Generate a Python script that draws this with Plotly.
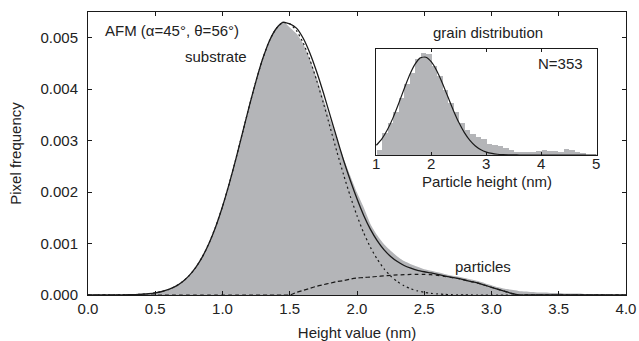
import plotly.graph_objects as go

# ---- main panel data (height value in nm, pixel frequency) ----
x_main = [round(0.05 * i, 2) for i in range(81)]  # 0.00 .. 4.00 tick grid for listing

hist_vals = [
    0, 0, 0, 0, 0.000001, 0.000002, 0.000004, 0.000008, 0.000015, 0.000026,
    0.000043, 0.000069, 0.00011, 0.00017, 0.000255, 0.000373, 0.000533, 0.000742, 0.001005, 0.00133,
    0.00172, 0.00216, 0.00265, 0.00316, 0.00368, 0.00417, 0.0046, 0.00496, 0.0052, 0.00532,
    0.0052, 0.00508, 0.00488, 0.00458, 0.00422, 0.00382, 0.00342, 0.00302, 0.00266, 0.00232,
    0.00199, 0.0017, 0.00138, 0.00116, 0.00099, 0.00086, 0.00075, 0.00066, 0.0006, 0.00055,
    0.0005, 0.00047, 0.00044, 0.00041, 0.00038, 0.00036, 0.00033, 0.0003, 0.00027, 0.00023,
    0.00019, 0.00015, 0.00012, 0.0001, 0.00008, 0.00007, 0.00006, 0.00005, 0.00005, 0.00004,
    0.00004, 0.00003, 0.00003, 0.00003, 0.00002, 0.00002, 0.00002, 0.00001, 0, 0, 0,
]

total_fit = [
    0, 0.0000002, 0.0000003, 0.0000007, 0.0000013, 0.0000024, 0.0000045, 0.0000082, 0.0000145, 0.000025,
    0.000042, 0.000068, 0.000108, 0.000167, 0.000252, 0.000371, 0.000531, 0.000741, 0.001007, 0.001333,
    0.00172, 0.002164, 0.00265, 0.003164, 0.00368, 0.004167, 0.0046, 0.004948, 0.00518, 0.005298,
    0.00527, 0.005187, 0.00499, 0.0047, 0.00434, 0.00393, 0.00349, 0.00305, 0.00262, 0.00223,
    0.00187, 0.001546, 0.001276, 0.001057, 0.000882, 0.000749, 0.00065, 0.000574, 0.000521, 0.00048,
    0.000452, 0.000428, 0.0004, 0.000372, 0.000347, 0.000324, 0.000292, 0.000261, 0.000231, 0.00019,
    0.00015, 0.00011, 0.00007, 0.00003, 0, 0, 0, 0, 0, 0,
    0, 0, 0, 0, 0, 0, 0, 0, 0, 0, 0,
]

substrate_fit = [
    0, 0.0000002, 0.0000003, 0.0000007, 0.0000013, 0.0000024, 0.0000045, 0.0000082, 0.0000145, 0.000025,
    0.000042, 0.000068, 0.000108, 0.000167, 0.000252, 0.000371, 0.000531, 0.000741, 0.001007, 0.001333,
    0.00172, 0.002164, 0.00265, 0.003164, 0.00368, 0.004167, 0.0046, 0.004948, 0.00518, 0.005298,
    0.00527, 0.005137, 0.0049, 0.00457, 0.00417, 0.00373, 0.00326, 0.00279, 0.00234, 0.00192,
    0.00154, 0.001206, 0.000926, 0.000697, 0.000512, 0.000369, 0.00026, 0.000179, 0.000121, 0.00008,
    0.000052, 0.000033, 0.00002, 0.000012, 0.000007, 0.000004, 0.000002, 0.000001, 0, 0,
    0, 0, 0, 0, 0, 0, 0, 0, 0, 0,
    0, 0, 0, 0, 0, 0, 0, 0, 0, 0, 0,
]

particle_fit = [
    0, 0, 0, 0, 0, 0, 0, 0, 0, 0,
    0, 0, 0, 0, 0, 0, 0, 0, 0, 0,
    0, 0, 0, 0, 0, 0, 0, 0, 0, 0,
    0, 0.00005, 0.00009, 0.00013, 0.00017, 0.0002, 0.00023, 0.00026, 0.00028, 0.00031,
    0.00033, 0.00034, 0.00035, 0.00036, 0.00037, 0.00038, 0.00039, 0.000395, 0.0004, 0.0004,
    0.0004, 0.000395, 0.00038, 0.00036, 0.00034, 0.00032, 0.00029, 0.00026, 0.00023, 0.00019,
    0.00015, 0.00011, 0.00007, 0.00003, 0, 0, 0, 0, 0, 0,
    0, 0, 0, 0, 0, 0, 0, 0, 0, 0, 0,
]

x_ticks = [0.0, 0.5, 1.0, 1.5, 2.0, 2.5, 3.0, 3.5, 4.0]
y_ticks = [0.0, 0.001, 0.002, 0.003, 0.004, 0.005]

# ---- inset data (grain distribution, N=353) ----
grain_bins = [round(1.05 + 0.1 * i, 2) for i in range(38)]
grain_vals = [
    0.051, 0.211, 0.297, 0.409, 0.537, 0.665, 0.776, 0.904, 0.958, 0.952,
    0.840, 0.744, 0.617, 0.489, 0.409, 0.297, 0.233, 0.201, 0.169, 0.153,
    0.105, 0.096, 0.089, 0.064, 0.042, 0.026, 0.026, 0.032, 0.032, 0.038,
    0.042, 0.038, 0.035, 0.032, 0.054, 0.048, 0.026, 0.016,
]
grain_fit_x = [round(1.0 + 0.1 * i, 2) for i in range(41)]
grain_fit = [
    0.092, 0.1525, 0.2376, 0.348, 0.479, 0.618, 0.751, 0.856, 0.917, 0.923,
    0.879, 0.793, 0.678, 0.549, 0.421, 0.306, 0.211, 0.1376, 0.085, 0.0498,
    0.0276, 0.0145, 0.0072, 0.0034, 0.0015, 0.0006, 0.0002, 0, 0, 0,
    0, 0, 0, 0, 0, 0, 0, 0, 0, 0, 0,
]
inset_ticks = [1, 2, 3, 4, 5]
inset_tick_labels = ["1", "2", "3", "4", "5"]

GRAY = "#b4b5b8"
INK = "#1a1a1a"
FONT = "Liberation Sans, Arial, sans-serif"

fig = go.Figure()

fig.add_trace(go.Scatter(
    x=x_main, y=hist_vals, mode="lines", fill="tozeroy",
    line=dict(width=0, shape="spline", smoothing=0.6), fillcolor=GRAY,
    hoverinfo="skip", showlegend=False,
))
fig.add_trace(go.Scatter(
    x=x_main, y=substrate_fit, mode="lines",
    line=dict(color=INK, width=1.2, dash="2px,3px", shape="spline", smoothing=0.6),
    showlegend=False,
))
fig.add_trace(go.Scatter(
    x=x_main, y=particle_fit, mode="lines",
    line=dict(color=INK, width=1.2, dash="4px,3px", shape="spline", smoothing=0.6),
    showlegend=False,
))
fig.add_trace(go.Scatter(
    x=x_main, y=total_fit, mode="lines",
    line=dict(color=INK, width=1.3, shape="spline", smoothing=0.6),
    showlegend=False,
))

# inset
fig.add_trace(go.Bar(
    x=grain_bins, y=grain_vals, width=0.1, marker=dict(color=GRAY, line=dict(width=0)),
    xaxis="x2", yaxis="y2", showlegend=False,
))
fig.add_trace(go.Scatter(
    x=grain_fit_x, y=grain_fit, mode="lines",
    line=dict(color=INK, width=1.2, shape="spline", smoothing=0.6),
    xaxis="x2", yaxis="y2", showlegend=False,
))

axis_common = dict(
    showline=True, linecolor=INK, linewidth=1, mirror="ticks",
    ticks="inside", ticklen=4, tickcolor=INK, tickwidth=1,
    showgrid=False, zeroline=False, automargin=False,
    tickfont=dict(family=FONT, size=15, color="#222"),
)

INSET_Y0 = 0.4947
annotations = [
    dict(text="AFM (\u03b1=45\u00b0, \u03b8=56\u00b0)", x=0.0279, y=0.936, xref="paper", yref="paper",
         xanchor="left", yanchor="middle", showarrow=False, font=dict(size=15)),
    dict(text="substrate", x=0.238, y=0.841, xref="paper", yref="paper",
         xanchor="center", yanchor="middle", showarrow=False, font=dict(size=15)),
    dict(text="particles", x=0.735, y=0.1, xref="paper", yref="paper",
         xanchor="center", yanchor="middle", showarrow=False, font=dict(size=15)),
    dict(text="grain distribution", x=0.7444, y=0.9258, xref="paper", yref="paper",
         xanchor="center", yanchor="middle", showarrow=False, font=dict(size=15)),
    dict(text="N=353", x=0.9238, y=0.8187, xref="paper", yref="paper",
         xanchor="right", yanchor="middle", showarrow=False, font=dict(size=15)),
    dict(text="Particle height (nm)", x=0.7416, y=0.3993, xref="paper", yref="paper",
         xanchor="center", yanchor="middle", showarrow=False, font=dict(size=15)),
]
for tv, tl in zip(inset_ticks, inset_tick_labels):
    annotations.append(dict(text=tl, x=tv, y=0.4664, xref="x2", yref="paper",
                            xanchor="center", yanchor="middle", showarrow=False,
                            font=dict(size=15)))

fig.update_layout(
    width=639, height=341,
    margin=dict(l=88, r=13, t=12, b=46),
    paper_bgcolor="white", plot_bgcolor="white",
    font=dict(family=FONT, size=15, color="#222"),
    bargap=0,
    xaxis=dict(
        range=[0, 4], tickvals=x_ticks, tickformat=".1f",
        title=dict(text="Height value (nm)", font=dict(size=15), standoff=13),
        domain=[0, 1], **axis_common,
    ),
    yaxis=dict(
        range=[0, 0.0055], tickvals=y_ticks, tickformat=".3f",
        title=dict(text="Pixel frequency", font=dict(size=15), standoff=15),
        ticklabelstandoff=6,
        domain=[0, 1], **axis_common,
    ),
    xaxis2=dict(
        range=[0.99, 5.01], tickvals=inset_ticks, anchor="y2", showticklabels=False,
        domain=[0.535, 0.946], **{**axis_common, "ticklen": 3},
    ),
    yaxis2=dict(
        range=[0, 1.0], anchor="x2", domain=[INSET_Y0, 0.869],
        showline=True, linecolor=INK, linewidth=1, mirror=True,
        ticks="", showticklabels=False, showgrid=False, zeroline=False,
    ),
    annotations=annotations,
)

fig.write_html("out.html")
